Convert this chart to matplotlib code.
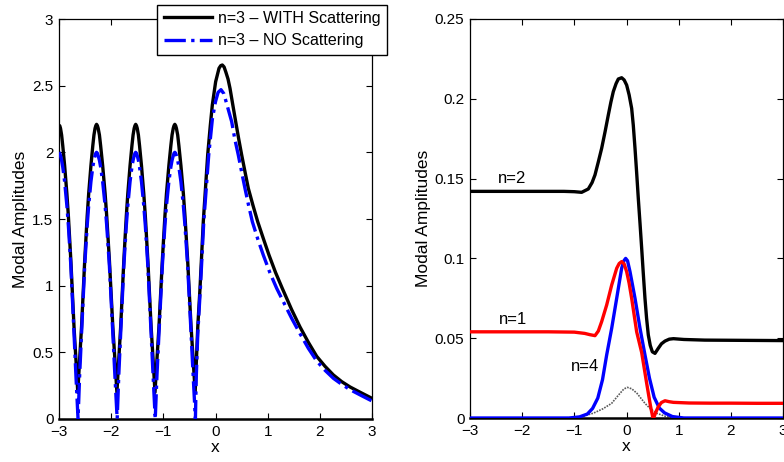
import numpy as np
import matplotlib
matplotlib.use("Agg")
import matplotlib.pyplot as plt

plt.rcParams['font.family'] = ['Liberation Sans', 'DejaVu Sans']

# ---- left panel: n=3 mode, with / without scattering ----
x_with = [-3.0, -2.986, -2.971, -2.95, -2.928, -2.892, -2.849, -2.82, -2.773, -2.712, -2.676, -2.64,
          -2.604, -2.568, -2.507, -2.46, -2.431, -2.388, -2.352, -2.33, -2.309, -2.294, -2.28,
          -2.264, -2.249, -2.225, -2.202, -2.163, -2.116, -2.085, -2.034, -1.968, -1.929, -1.89,
          -1.854, -1.818, -1.757, -1.71, -1.681, -1.638, -1.602, -1.58, -1.559, -1.544, -1.53,
          -1.515, -1.5, -1.478, -1.456, -1.419, -1.375, -1.345, -1.297, -1.234, -1.197, -1.16,
          -1.122, -1.084, -1.019, -0.97, -0.94, -0.894, -0.856, -0.833, -0.81, -0.795, -0.78,
          -0.764, -0.749, -0.725, -0.702, -0.663, -0.616, -0.585, -0.534, -0.468, -0.429, -0.39,
          -0.365, -0.34, -0.297, -0.234, -0.15, -0.1, -0.061, 0.003, 0.067, 0.1, 0.131,
          0.165, 0.2, 0.24, 0.278, 0.33, 0.387, 0.445, 0.502, 0.565, 0.629, 0.72, 0.809,
          0.92, 1.025, 1.15, 1.28, 1.46, 1.62, 1.78, 1.94, 2.1, 2.26, 2.42, 2.58, 2.8, 3.0]
y_with = [2.2, 2.2, 2.18, 2.13, 2.05, 1.9, 1.69, 1.52, 1.19, 0.69, 0.45, 0.2,
          0.45, 0.69, 1.19, 1.52, 1.69, 1.9, 2.05, 2.13, 2.18, 2.2, 2.21,
          2.2, 2.18, 2.13, 2.05, 1.9, 1.69, 1.52, 1.19, 0.69, 0.45, 0.2,
          0.45, 0.69, 1.19, 1.52, 1.69, 1.9, 2.05, 2.13, 2.18, 2.2, 2.21,
          2.2, 2.18, 2.13, 2.05, 1.9, 1.69, 1.52, 1.19, 0.69, 0.45, 0.2,
          0.45, 0.69, 1.19, 1.52, 1.69, 1.9, 2.05, 2.13, 2.18, 2.2, 2.21,
          2.2, 2.18, 2.13, 2.05, 1.9, 1.69, 1.52, 1.19, 0.69, 0.45, 0.2,
          0.45, 0.69, 0.98, 1.48, 1.98, 2.2, 2.355, 2.53, 2.63, 2.65, 2.655,
          2.64, 2.6, 2.55, 2.48, 2.36, 2.23, 2.1, 1.98, 1.855, 1.73, 1.6, 1.48,
          1.35, 1.23, 1.1, 0.98, 0.82, 0.69, 0.575, 0.47, 0.395, 0.33, 0.28, 0.24, 0.195, 0.155]

x_no = [-3.0, -2.986, -2.971, -2.95, -2.928, -2.892, -2.849, -2.82, -2.773, -2.712, -2.676, -2.635,
        -2.604, -2.568, -2.507, -2.46, -2.431, -2.388, -2.352, -2.33, -2.309, -2.294, -2.28,
        -2.264, -2.249, -2.225, -2.202, -2.163, -2.116, -2.085, -2.034, -1.968, -1.929, -1.885,
        -1.854, -1.818, -1.757, -1.71, -1.681, -1.638, -1.602, -1.58, -1.559, -1.544, -1.53,
        -1.515, -1.5, -1.478, -1.456, -1.419, -1.375, -1.345, -1.297, -1.234, -1.197, -1.155,
        -1.122, -1.084, -1.019, -0.97, -0.94, -0.894, -0.856, -0.833, -0.81, -0.795, -0.78,
        -0.764, -0.749, -0.725, -0.702, -0.663, -0.616, -0.585, -0.534, -0.468, -0.429, -0.385,
        -0.37, -0.34, -0.29, -0.225, -0.13, -0.06, 0.0, 0.05, 0.105,
        0.16, 0.21, 0.26, 0.31, 0.37, 0.437, 0.5, 0.565, 0.63, 0.706, 0.81, 0.916,
        1.04, 1.173, 1.3, 1.46, 1.62, 1.78, 1.94, 2.1, 2.26, 2.42, 2.58, 2.8, 3.0]
y_no = [2.0, 1.993, 1.975, 1.94, 1.89, 1.78, 1.6, 1.45, 1.15, 0.64, 0.33, 0.0,
        0.33, 0.64, 1.15, 1.45, 1.6, 1.78, 1.89, 1.94, 1.975, 1.993, 2.0,
        1.993, 1.975, 1.94, 1.89, 1.78, 1.6, 1.45, 1.15, 0.64, 0.33, 0.0,
        0.33, 0.64, 1.15, 1.45, 1.6, 1.78, 1.89, 1.94, 1.975, 1.993, 2.0,
        1.993, 1.975, 1.94, 1.89, 1.78, 1.6, 1.45, 1.15, 0.64, 0.33, 0.0,
        0.33, 0.64, 1.15, 1.45, 1.6, 1.78, 1.89, 1.94, 1.975, 1.993, 2.0,
        1.993, 1.975, 1.94, 1.89, 1.78, 1.6, 1.45, 1.15, 0.64, 0.33, 0.0,
        0.3, 0.64, 0.98, 1.48, 1.98, 2.25, 2.38, 2.45, 2.47,
        2.44, 2.37, 2.3, 2.23, 2.1, 1.98, 1.855, 1.73, 1.61, 1.48, 1.35, 1.23,
        1.1, 0.98, 0.88, 0.755, 0.64, 0.53, 0.435, 0.365, 0.305, 0.26, 0.22, 0.175, 0.135]

# ---- right panel: modes n=1, 2, 4 (and faint n=3 difference) ----
x_n2 = [-3, -2, -1.5, -1.2, -1.0, -0.86, -0.732, -0.66, -0.604, -0.54, -0.476, -0.41,
        -0.349, -0.3, -0.253, -0.2, -0.157, -0.093, -0.045, 0.003, 0.05, 0.099, 0.13,
        0.163, 0.195, 0.226, 0.26, 0.291, 0.32, 0.354, 0.385, 0.418, 0.455, 0.495,
        0.546, 0.61, 0.67, 0.738, 0.82, 0.9, 1.1, 1.5, 2, 2.5, 3]
y_n2 = [0.142, 0.142, 0.142, 0.142, 0.1418, 0.1414, 0.1435, 0.1475, 0.1523, 0.1605,
        0.169, 0.1795, 0.1898, 0.1978, 0.2045, 0.2095, 0.2124, 0.2132, 0.2118, 0.2086,
        0.2025, 0.194, 0.1835, 0.169, 0.1535, 0.1377, 0.1215, 0.1063, 0.0915, 0.075,
        0.0625, 0.052, 0.0455, 0.0415, 0.0405, 0.0437, 0.0465, 0.0482, 0.0494, 0.0497,
        0.0492, 0.0488, 0.0487, 0.0486, 0.0485]

x_n1 = [-3, -2, -1.5, -1.0, -0.8, -0.7, -0.604, -0.54, -0.476, -0.38, -0.284, -0.188,
        -0.14, -0.093, -0.045, 0.003, 0.05, 0.099, 0.195, 0.291, 0.387, 0.46, 0.5,
        0.52, 0.56, 0.61, 0.67, 0.738, 0.82, 0.9, 1.2, 1.6, 2, 2.5, 3]
y_n1 = [0.054, 0.054, 0.054, 0.0538, 0.053, 0.0522, 0.0516, 0.0545, 0.0604, 0.0708,
        0.0833, 0.0938, 0.0968, 0.098, 0.0965, 0.0917, 0.0845, 0.075, 0.054, 0.041,
        0.0217, 0.0075, 0.001, 0.0, 0.0035, 0.0071, 0.0097, 0.0108, 0.0102, 0.0098,
        0.0094, 0.0093, 0.0093, 0.0092, 0.0092]

x_n4 = [-3, -2, -1.1, -0.9, -0.75, -0.65, -0.55, -0.46, -0.38, -0.284, -0.188, -0.093,
        -0.05, -0.016, 0.02, 0.067, 0.163, 0.259, 0.354, 0.44, 0.53, 0.63, 0.73, 0.88,
        1.1, 1.5, 2, 3]
y_n4 = [0, 0, 0, 0.0007, 0.0025, 0.006, 0.0125, 0.024, 0.0395, 0.0562, 0.075, 0.0938,
        0.0985, 0.1, 0.0985, 0.0917, 0.075, 0.0562, 0.0395, 0.025, 0.013, 0.0062, 0.0032,
        0.0009, 0, 0, 0, 0]

x_n3 = [-3, -2, -1.2, -0.9, -0.636, -0.45, -0.284, -0.15, -0.05, 0.016, 0.1,
        0.2, 0.354, 0.45, 0.578, 0.75, 1.0, 1.4, 2, 3]
y_n3 = [0, 0, 0, 0.0005, 0.003, 0.0058, 0.0092, 0.0145, 0.0182, 0.0192,
        0.0183, 0.0155, 0.0092, 0.006, 0.003, 0.001, 0.0002, 0, 0, 0]

fig = plt.figure(figsize=(7.84, 4.62), dpi=100)
ax1 = fig.add_axes([59 / 784, 43 / 462, 313 / 784, 400 / 462])
ax2 = fig.add_axes([470 / 784, 44 / 462, 313 / 784, 399 / 462])

ax1.plot(x_with, y_with, color='black', lw=2.4, label='n=3 – WITH Scattering', zorder=3)
ax1.plot(x_no, y_no, color='blue', lw=2.4, ls='-.', label='n=3 – NO Scattering', zorder=4)
ax1.set_xlim(-3, 3)
ax1.set_ylim(0, 3)
ax1.set_yticks([0, 0.5, 1, 1.5, 2, 2.5, 3])
ax1.set_yticklabels(['0', '0.5', '1', '1.5', '2', '2.5', '3'])
leg = ax1.legend(loc='upper right', bbox_to_anchor=(1.048, 1.036), borderaxespad=0,
                 fancybox=False, edgecolor='black', framealpha=1, fontsize=11.5,
                 handlelength=3.0, borderpad=0.4, labelspacing=0.45, handletextpad=0.4)
leg.get_frame().set_linewidth(1.0)
leg.set_zorder(10)

ax2.plot(x_n3, y_n3, color='0.35', lw=1.2, ls=(0, (1, 0.7)), zorder=2)
ax2.plot(x_n4, y_n4, color='blue', lw=2.4, zorder=3)
ax2.plot(x_n1, y_n1, color='red', lw=2.4, zorder=4)
ax2.plot(x_n2, y_n2, color='black', lw=2.4, zorder=5)
ax2.set_xlim(-3, 3)
ax2.set_ylim(0, 0.25)
ax2.set_yticks([0, 0.05, 0.1, 0.15, 0.2, 0.25])
ax2.set_yticklabels(['0', '0.05', '0.1', '0.15', '0.2', '0.25'])
ax2.text(-2.2, 0.150, 'n=2', fontsize=12, ha='center', va='center')
ax2.text(-2.18, 0.062, 'n=1', fontsize=12, ha='center', va='center')
ax2.text(-0.8, 0.032, 'n=4', fontsize=12, ha='center', va='center')

for ax in (ax1, ax2):
    ax.set_xticks([-3, -2, -1, 0, 1, 2, 3])
    ax.tick_params(direction='in', top=True, right=True, length=4, width=0.8,
                   labelsize=11, pad=4)
    for s in ax.spines.values():
        s.set_linewidth(0.9)
    ax.spines['bottom'].set_linewidth(1.8)
    ax.set_xlabel('x', fontsize=12.5, labelpad=1)
    ax.set_ylabel('Modal Amplitudes', fontsize=12.5, labelpad=3)

fig.savefig('out.png', dpi=100)
